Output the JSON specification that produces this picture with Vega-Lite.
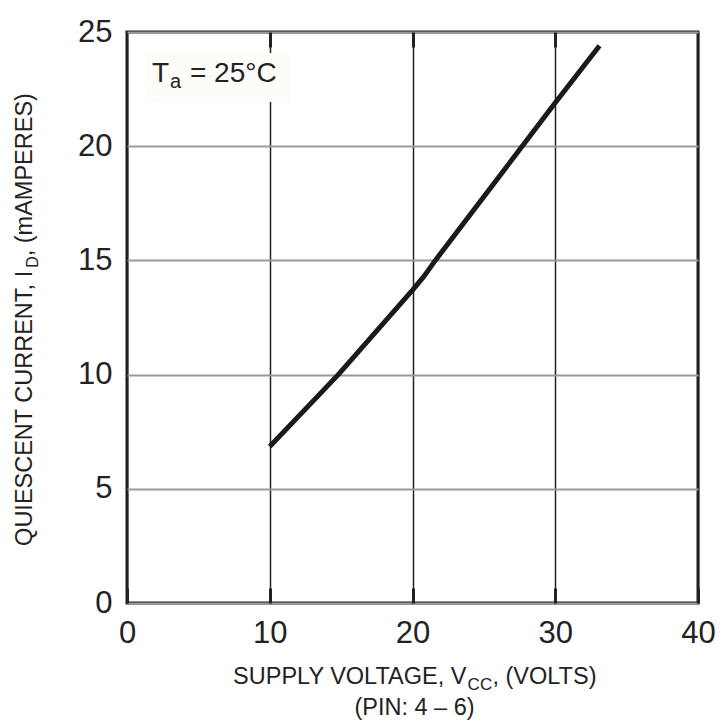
{
  "$schema": "https://vega.github.io/schema/vega-lite/v6.json",
  "width": 571,
  "height": 571,
  "autosize": {"type": "none"},
  "padding": {"left": 127, "top": 32, "right": 24, "bottom": 117},
  "background": "white",
  "config": {
    "font": "Liberation Sans",
    "view": {"stroke": "#1e1e1e", "strokeWidth": 3},
    "text": {"font": "Liberation Sans", "color": "#222222"}
  },
  "resolve": {"axis": {"x": "independent"}},
  "datasets": {
    "curve": [
      {"vcc": 10, "id": 6.85},
      {"vcc": 14.8, "id": 10.0},
      {"vcc": 20, "id": 13.7},
      {"vcc": 20.8, "id": 14.3},
      {"vcc": 21.6, "id": 15.0},
      {"vcc": 30, "id": 21.9},
      {"vcc": 33.1, "id": 24.4}
    ],
    "box": [{"x": 1.26, "x2": 11.42, "y": 24.08, "y2": 21.93}],
    "texts": [
      {"part": "xmain", "text": "SUPPLY VOLTAGE, V", "x": 7.43, "y": -3.55},
      {"part": "xsub", "text": "CC", "x": 23.86, "y": -3.81},
      {"part": "xmain", "text": ", (VOLTS)", "x": 25.6, "y": -3.55},
      {"part": "xline2", "text": "(PIN: 4 – 6)", "x": 20.14, "y": -4.9},
      {"part": "ymain", "text": "QUIESCENT CURRENT, I", "x": -6.65, "y": 2.5},
      {"part": "ysub", "text": "D", "x": -6.23, "y": 14.68},
      {"part": "ymain", "text": ", (mAMPERES)", "x": -6.65, "y": 15.18},
      {"part": "amain", "text": "T", "x": 1.75, "y": 22.81},
      {"part": "asub", "text": "a", "x": 3.01, "y": 22.55},
      {"part": "amain", "text": "= 25°C", "x": 4.41, "y": 22.81}
    ]
  },
  "layer": [
    {
      "data": {"name": "curve"},
      "mark": {"type": "line", "color": "#1a1a1a", "strokeWidth": 5, "strokeCap": "butt", "strokeJoin": "round"},
      "encoding": {
        "x": {
          "field": "vcc", "type": "quantitative",
          "scale": {"domain": [0, 40], "nice": false, "zero": false},
          "axis": {
            "title": null, "values": [0, 10, 20, 30, 40], "domain": false, "orient": "bottom",
            "ticks": true, "tickSize": -15, "tickWidth": 3, "tickColor": "#222222",
            "grid": true, "gridColor": "#222222", "gridWidth": 1.5, "gridOpacity": 1,
            "labelFontSize": 31, "labelColor": "#222222", "labelPadding": 30,
            "labelFont": "Liberation Sans", "labelFlush": false
          }
        },
        "y": {
          "field": "id", "type": "quantitative",
          "scale": {"domain": [0, 25], "nice": false, "zero": false},
          "axis": {
            "title": null, "values": [0, 5, 10, 15, 20, 25], "domain": false,
            "ticks": false, "grid": true, "gridColor": "#9a9a9a", "gridWidth": 2, "gridOpacity": 1,
            "labelFontSize": 31, "labelColor": "#222222", "labelPadding": 15,
            "labelFont": "Liberation Sans", "labelFlush": false
          }
        }
      }
    },
    {
      "data": {"name": "box"},
      "mark": {"type": "rect", "fill": "#fdfcf9", "stroke": null},
      "encoding": {
        "x": {
          "field": "x", "type": "quantitative",
          "axis": {
            "orient": "top", "title": null, "values": [10, 20, 30], "domain": false,
            "labels": false, "grid": false, "ticks": true, "tickSize": -15,
            "tickWidth": 3, "tickColor": "#222222"
          }
        },
        "x2": {"field": "x2"},
        "y": {"field": "y", "type": "quantitative"},
        "y2": {"field": "y2"}
      }
    },
    {
      "data": {"name": "texts"},
      "transform": [{"filter": "datum.part == 'xmain'"}],
      "mark": {"type": "text", "align": "left", "baseline": "alphabetic", "fontSize": 23.5, "clip": false},
      "encoding": {
        "x": {"field": "x", "type": "quantitative", "axis": null},
        "y": {"field": "y", "type": "quantitative"},
        "text": {"field": "text"}
      }
    },
    {
      "data": {"name": "texts"},
      "transform": [{"filter": "datum.part == 'xsub'"}],
      "mark": {"type": "text", "align": "left", "baseline": "alphabetic", "fontSize": 17, "clip": false},
      "encoding": {
        "x": {"field": "x", "type": "quantitative", "axis": null},
        "y": {"field": "y", "type": "quantitative"},
        "text": {"field": "text"}
      }
    },
    {
      "data": {"name": "texts"},
      "transform": [{"filter": "datum.part == 'xline2'"}],
      "mark": {"type": "text", "align": "center", "baseline": "alphabetic", "fontSize": 23.5, "clip": false},
      "encoding": {
        "x": {"field": "x", "type": "quantitative", "axis": null},
        "y": {"field": "y", "type": "quantitative"},
        "text": {"field": "text"}
      }
    },
    {
      "data": {"name": "texts"},
      "transform": [{"filter": "datum.part == 'ymain'"}],
      "mark": {"type": "text", "align": "left", "baseline": "alphabetic", "fontSize": 23.5, "angle": 270, "clip": false},
      "encoding": {
        "x": {"field": "x", "type": "quantitative", "axis": null},
        "y": {"field": "y", "type": "quantitative"},
        "text": {"field": "text"}
      }
    },
    {
      "data": {"name": "texts"},
      "transform": [{"filter": "datum.part == 'ysub'"}],
      "mark": {"type": "text", "align": "left", "baseline": "alphabetic", "fontSize": 16, "angle": 270, "clip": false},
      "encoding": {
        "x": {"field": "x", "type": "quantitative", "axis": null},
        "y": {"field": "y", "type": "quantitative"},
        "text": {"field": "text"}
      }
    },
    {
      "data": {"name": "texts"},
      "transform": [{"filter": "datum.part == 'amain'"}],
      "mark": {"type": "text", "align": "left", "baseline": "alphabetic", "fontSize": 28, "clip": false},
      "encoding": {
        "x": {"field": "x", "type": "quantitative", "axis": null},
        "y": {"field": "y", "type": "quantitative"},
        "text": {"field": "text"}
      }
    },
    {
      "data": {"name": "texts"},
      "transform": [{"filter": "datum.part == 'asub'"}],
      "mark": {"type": "text", "align": "left", "baseline": "alphabetic", "fontSize": 20, "clip": false},
      "encoding": {
        "x": {"field": "x", "type": "quantitative", "axis": null},
        "y": {"field": "y", "type": "quantitative"},
        "text": {"field": "text"}
      }
    }
  ]
}
